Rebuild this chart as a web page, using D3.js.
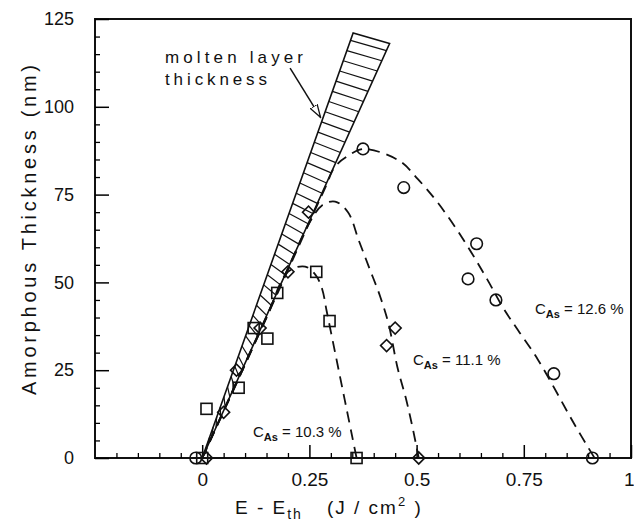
<!DOCTYPE html>
<html>
<head>
<meta charset="utf-8">
<script src="https://cdn.jsdelivr.net/npm/d3@7"></script>
<style>
  body { margin: 0; background: #fff; }
  text { font-family: "Liberation Sans", Arial, sans-serif; fill: #111; }
</style>
</head>
<body>
<div id="chart"></div>
<script>
// C_As = 12.6 % (circles)
var circleX = [-0.015, 0.375, 0.47, 0.62, 0.64, 0.685, 0.82, 0.91];
var circleY = [0, 88, 77, 51, 61, 45, 24, 0];
// C_As = 11.1 % (diamonds)
var diamondX = [0.01, 0.05, 0.08, 0.135, 0.2, 0.248, 0.43, 0.45, 0.505];
var diamondY = [0, 13, 25, 37, 53, 70, 32, 37, 0];
// C_As = 10.3 % (squares)
var squareX = [0.0, 0.01, 0.085, 0.12, 0.152, 0.175, 0.266, 0.297, 0.36];
var squareY = [0, 14, 20, 37, 34, 47, 53, 39, 0];

// dashed guide curves
var curve126X = [0, 0.15, 0.287, 0.31, 0.34, 0.375, 0.46, 0.503, 0.55, 0.61, 0.664, 0.704, 0.737, 0.783, 0.869, 0.915];
var curve126Y = [0, 40, 77, 83, 86, 88, 84.6, 79.4, 72.6, 62, 51, 42.3, 36.3, 28, 9.4, 0];
var curve111X = [0, 0.12, 0.2, 0.25, 0.28, 0.31, 0.34, 0.365, 0.39, 0.415, 0.435, 0.455, 0.475, 0.49, 0.505];
var curve111Y = [0, 32, 54, 67, 72, 73, 70, 62, 54, 46, 38, 26, 17, 9, 0];
var curve103X = [0, 0.1, 0.15, 0.2, 0.24, 0.265, 0.28, 0.29, 0.305, 0.32, 0.335, 0.35, 0.36];
var curve103Y = [0, 27, 40, 53, 54.5, 52, 48, 42, 33, 24, 15, 6, 0];

// molten layer band: left and right edges (origin -> top end)
var bandLeftX = [0, 0.352], bandLeftY = [0, 121];
var bandRightX = [0, 0.437], bandRightY = [0, 118];

// ticks
var xMajorTicks = [0, 0.25, 0.5, 0.75, 1];
var xTickLabels = ["0", "0.25", "0.5", "0.75", "1"];
var xMinorTicks = [-0.2, -0.15, -0.1, -0.05, 0.05, 0.1, 0.15, 0.2, 0.3, 0.35, 0.4, 0.45,
                   0.55, 0.6, 0.65, 0.7, 0.8, 0.85, 0.9, 0.95];
var yMajorTicks = [0, 25, 50, 75, 100, 125];
var yTickLabels = ["0", "25", "50", "75", "100", "125"];
var yMinorTicks = [5, 10, 15, 20, 30, 35, 40, 45, 55, 60, 65, 70, 80, 85, 90, 95, 105, 110, 115, 120];

var margin = {top: 19, right: 3, bottom: 67, left: 95},
    width = 634 - margin.left - margin.right,
    height = 525 - margin.top - margin.bottom;

var svg = d3.select("#chart")
  .append("svg")
    .attr("width", 634)
    .attr("height", 525);

var plot = svg.append("g")
    .attr("transform", "translate(" + margin.left + "," + margin.top + ")");

var x = d3.scaleLinear().domain([-0.25, 1]).range([0, width]);
var y = d3.scaleLinear().domain([0, 125]).range([height, 0]);

// frame
plot.append("rect")
    .attr("width", width).attr("height", height)
    .attr("fill", "none").attr("stroke", "#111").attr("stroke-width", 2);

// x axis minor + major
plot.append("g")
    .attr("transform", "translate(0," + height + ")")
    .call(d3.axisBottom(x).tickValues(xMinorTicks).tickSize(-5).tickFormat(""))
    .call(g => g.select(".domain").remove())
    .selectAll("line").attr("stroke-width", 1.3);
plot.append("g")
    .attr("transform", "translate(0," + height + ")")
    .call(d3.axisBottom(x).tickValues(xMajorTicks).tickSize(-13).tickPadding(15)
      .tickFormat(function(d, i) { return xTickLabels[i]; }))
    .call(g => g.select(".domain").remove())
    .call(g => g.selectAll("line").attr("stroke-width", 1.5))
    .call(g => g.selectAll("text").style("font-size", "19px").attr("fill", "#111")
      .filter(function(d) { return d === 1; })
      .attr("text-anchor", "end").attr("x", 3));

// y axis minor + major
plot.append("g")
    .call(d3.axisLeft(y).tickValues(yMinorTicks).tickSize(-5).tickFormat(""))
    .call(g => g.select(".domain").remove())
    .selectAll("line").attr("stroke-width", 1.3);
plot.append("g")
    .call(d3.axisLeft(y).tickValues(yMajorTicks).tickSize(-14).tickPadding(21)
      .tickFormat(function(d, i) { return yTickLabels[i]; }))
    .call(g => g.select(".domain").remove())
    .call(g => g.selectAll("line").attr("stroke-width", 1.5))
    .call(g => g.selectAll("text").style("font-size", "18px").attr("fill", "#111"));

// molten layer band
var slopeL = bandLeftY[1] / bandLeftX[1], slopeR = bandRightY[1] / bandRightX[1];
var band = plot.append("g").attr("stroke", "#111").attr("fill", "none");
band.append("path")
    .attr("stroke-width", 1.6)
    .attr("d", "M" + x(bandLeftX[0]) + "," + y(bandLeftY[0]) +
               "L" + x(bandLeftX[1]) + "," + y(bandLeftY[1]) +
               "L" + x(bandRightX[1]) + "," + y(bandRightY[1]) +
               "L" + x(bandRightX[0]) + "," + y(bandRightY[0]));
// hatching, tilted slightly down to the right
var hatchStep = 2.9, hatchTilt = 2.9;
for (var h = hatchStep + hatchTilt; h < bandLeftY[1]; h += hatchStep) {
  var hr = h - hatchTilt;
  band.append("line")
      .attr("stroke-width", 1.2)
      .attr("x1", x(h / slopeL)).attr("y1", y(h))
      .attr("x2", x(hr / slopeR)).attr("y2", y(hr));
}

// dashed curves
var line = d3.line()
    .x(function(d) { return x(d[0]); })
    .y(function(d) { return y(d[1]); })
    .curve(d3.curveCatmullRom.alpha(0.5));
[[curve126X, curve126Y], [curve111X, curve111Y], [curve103X, curve103Y]].forEach(function(c) {
  plot.append("path")
      .datum(d3.zip(c[0], c[1]))
      .attr("fill", "none")
      .attr("stroke", "#111")
      .attr("stroke-width", 1.8)
      .attr("stroke-dasharray", "11,7")
      .attr("d", line);
});

// markers
plot.append("g").selectAll("circle")
    .data(d3.zip(circleX, circleY))
  .enter().append("circle")
    .attr("cx", function(d) { return x(d[0]); })
    .attr("cy", function(d) { return y(d[1]); })
    .attr("r", 5.8)
    .attr("fill", "none").attr("stroke", "#111").attr("stroke-width", 1.6);

plot.append("g").selectAll("rect")
    .data(d3.zip(squareX, squareY))
  .enter().append("rect")
    .attr("x", function(d) { return x(d[0]) - 5.5; })
    .attr("y", function(d) { return y(d[1]) - 5.5; })
    .attr("width", 11).attr("height", 11)
    .attr("fill", "none").attr("stroke", "#111").attr("stroke-width", 1.6);

plot.append("g").selectAll("path")
    .data(d3.zip(diamondX, diamondY))
  .enter().append("path")
    .attr("transform", function(d) { return "translate(" + x(d[0]) + "," + y(d[1]) + ") rotate(45)"; })
    .attr("d", d3.symbol().type(d3.symbolSquare).size(72))
    .attr("fill", "none").attr("stroke", "#111").attr("stroke-width", 1.6);

// arrow to band
svg.append("defs").append("marker")
    .attr("id", "head")
    .attr("viewBox", "0 0 14 10")
    .attr("refX", 13).attr("refY", 5)
    .attr("markerWidth", 14).attr("markerHeight", 10)
    .attr("markerUnits", "userSpaceOnUse")
    .attr("orient", "auto")
  .append("path")
    .attr("d", "M0,1 L13,5 L0,9 Z")
    .attr("fill", "#fff").attr("stroke", "#111").attr("stroke-width", 1.3);

plot.append("line")
    .attr("x1", x(0.205)).attr("y1", y(111))
    .attr("x2", x(0.276)).attr("y2", y(97))
    .attr("stroke", "#111").attr("stroke-width", 1.5)
    .attr("marker-end", "url(#head)");

svg.append("text").attr("x", 165).attr("y", 63)
    .attr("textLength", 138).attr("lengthAdjust", "spacing")
    .style("font-size", "17px").text("molten layer");
svg.append("text").attr("x", 165).attr("y", 85)
    .attr("textLength", 102).attr("lengthAdjust", "spacing")
    .style("font-size", "17px").text("thickness");

// concentration labels
function casLabel(px, py, value) {
  var t = svg.append("text").attr("x", px).attr("y", py).style("font-size", "15px");
  t.append("tspan").text("C");
  t.append("tspan").attr("dy", 4).style("font-size", "11px").style("font-weight", "bold").text("As");
  t.append("tspan").attr("dy", -4).text(" = " + value + " %");
}
casLabel(535, 314, "12.6");
casLabel(413, 365, "11.1");
casLabel(253, 437, "10.3");

// axis titles
svg.append("text")
    .attr("transform", "translate(36,230) rotate(-90)")
    .attr("text-anchor", "middle")
    .attr("textLength", 330).attr("lengthAdjust", "spacing")
    .style("font-size", "20px")
    .text("Amorphous Thickness  (nm)");

var xt = svg.append("text").attr("x", 235).attr("y", 514)
    .style("font-size", "19px").style("letter-spacing", "2px");
xt.append("tspan").text("E - E");
xt.append("tspan").attr("dy", 5).style("font-size", "14px").text("th");
xt.append("tspan").attr("dy", -5).attr("dx", 24).text("(J / cm");
xt.append("tspan").attr("dy", -8).style("font-size", "13px").text("2");
xt.append("tspan").attr("dy", 8).text(" )");
</script>
</body>
</html>
